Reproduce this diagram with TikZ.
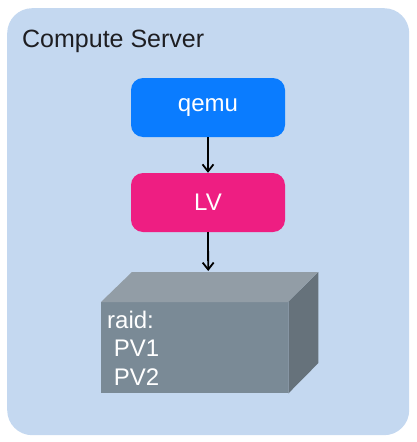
\documentclass[tikz,border=0pt]{standalone}
\usepackage{fontspec}
\setmainfont{Liberation Sans}
\usetikzlibrary{arrows.meta,calc}

\definecolor{serverbg}{RGB}{196,216,240}
\definecolor{titlegray}{RGB}{30,30,34}
\definecolor{qemublue}{RGB}{10,124,255}
\definecolor{lvpink}{RGB}{238,30,130}
\definecolor{raidfront}{RGB}{122,138,150}
\definecolor{raidtop}{RGB}{146,157,166}
\definecolor{raidside}{RGB}{102,114,123}

\tikzset{
  bigfont/.style={font=\fontsize{24}{28.5}\selectfont},
  block/.style={bigfont, rounded corners=12pt, minimum width=154pt,
    minimum height=59pt, text=white, inner sep=0pt},
  link/.style={-{Straight Barb[length=7pt,width=11pt]}, line width=1.8pt},
}

\begin{document}
\begin{tikzpicture}[x=1pt,y=-1pt]
  \useasboundingbox (0,0) rectangle (416,442);
  \node[fill=serverbg, rounded corners=25pt, minimum width=402pt,
    minimum height=427pt, anchor=north west, inner sep=0pt] (server) at (7,8) {};
  \node[font=\fontsize{25}{30}\selectfont, text=titlegray, anchor=base west, inner sep=0pt]
    (title) at (22,47) {Compute Server};

  \node[block, fill=qemublue] (qemu) at (208,107.5) {qemu};
  \node[block, fill=lvpink] (lv) at (208,202.5) {LV};

  % the raid volume, drawn as a box
  \node[fill=raidfront, minimum width=187pt, minimum height=91pt,
    anchor=north west, inner sep=0pt] (raid) at (101,302) {};
  \fill[raidtop] (raid.north west) -- ++(31,-30) -- ++(186,0) -- (raid.north east) -- cycle;
  \fill[raidside] (raid.north east) -- ++(30,-30) -- ++(0,91) -- (raid.south east) -- cycle;
  \coordinate (raidback) at ($(raid.north)+(13.5,-31)$);
  \node[bigfont, text=white, align=left, anchor=north west, inner sep=0pt] (raidlabel)
    at (107,310.5) {raid:\\\ PV1\\\ PV2};

  \draw[link] (qemu.south) -- (lv.north);
  \draw[link] (lv.south) -- (raidback);
\end{tikzpicture}
\end{document}
